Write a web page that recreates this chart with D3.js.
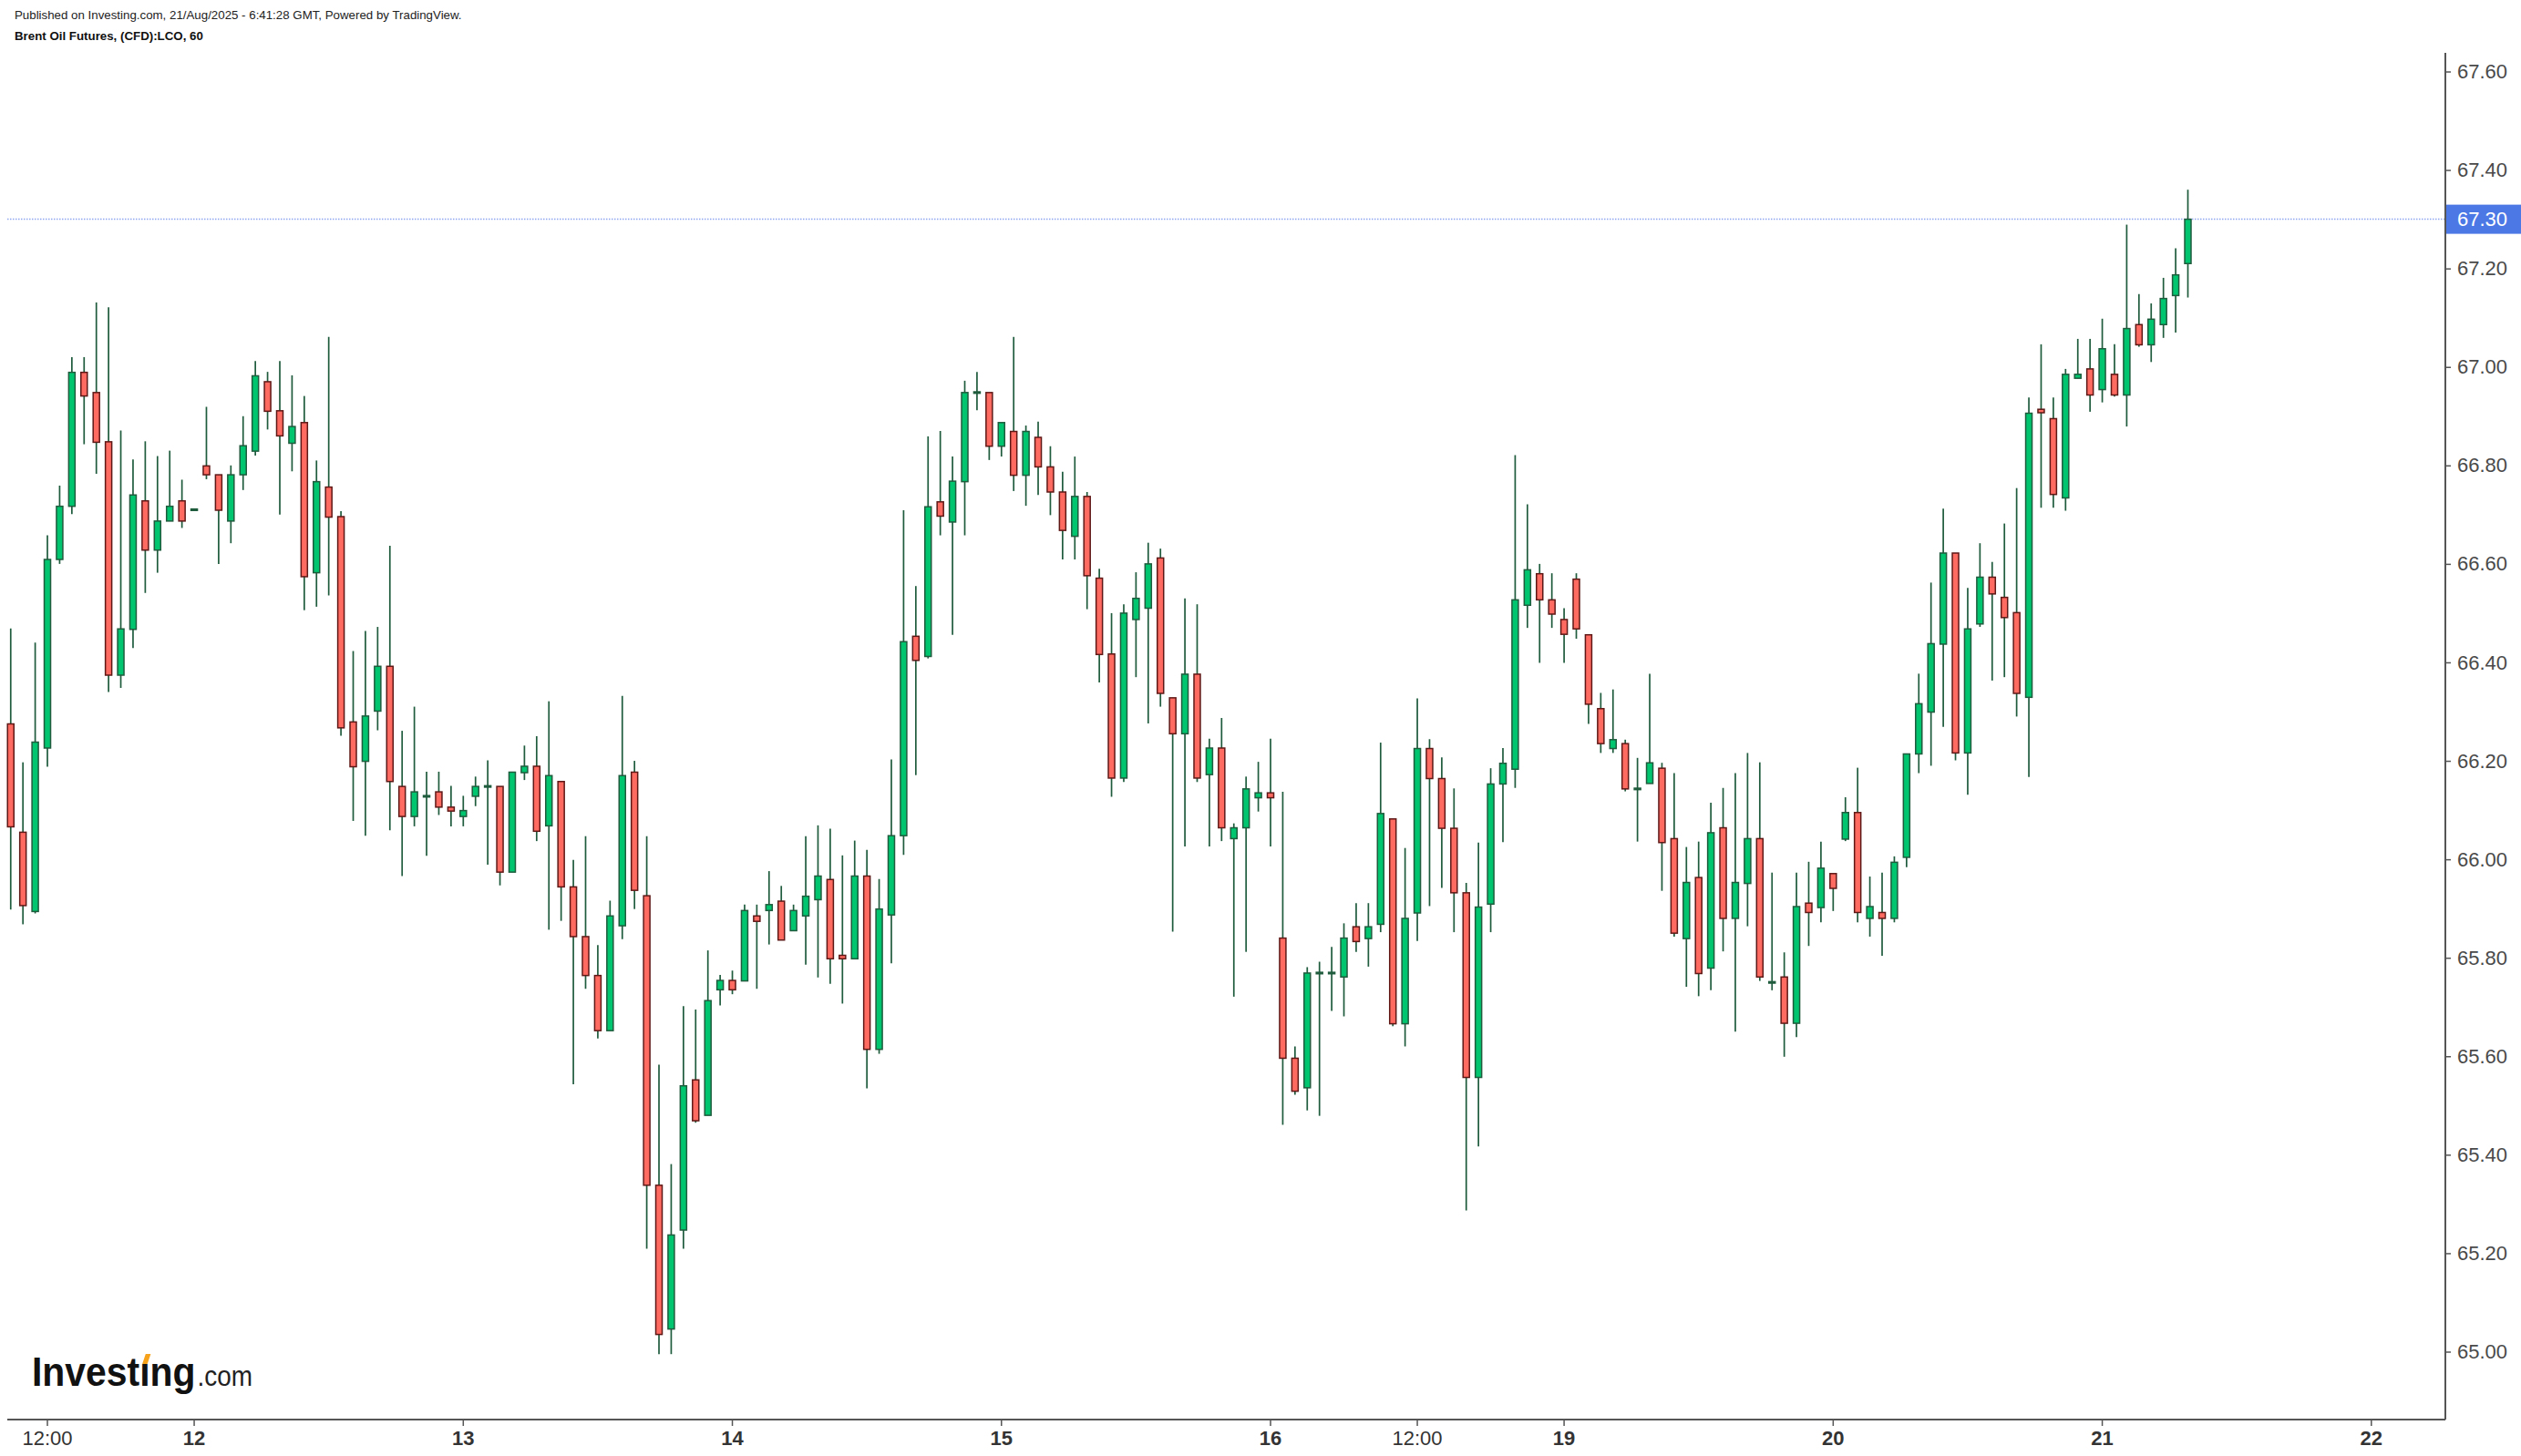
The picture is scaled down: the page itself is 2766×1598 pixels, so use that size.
<!DOCTYPE html>
<html>
<head>
<meta charset="utf-8">
<script src="https://cdn.jsdelivr.net/npm/d3@7"></script>
<style>
    html, body { margin: 0; padding: 0; background: #fff; }
    svg { display: block; font-family: "Liberation Sans", Arial, sans-serif; }
</style>
</head>
<body>
<div id="chart"></div>
<script>
// Brent Oil Futures hourly candles
var opens = [
    66.275, 66.055, 65.894, 66.226, 66.609, 66.717, 66.989, 66.948, 66.848, 66.374,
    66.467, 66.728, 66.628, 66.687, 66.728, 66.710, 66.799, 66.781, 66.687, 66.781,
    66.829, 66.970, 66.911, 66.845, 66.887, 66.582, 66.756, 66.696, 66.279, 66.199,
    66.301, 66.392, 66.148, 66.087, 66.128, 66.137, 66.106, 66.087, 66.128, 66.148,
    66.148, 65.974, 66.176, 66.189, 66.068, 66.158, 65.944, 65.843, 65.764, 65.652,
    65.865, 66.177, 65.926, 65.338, 65.046, 65.247, 65.552, 65.480, 65.735, 65.754,
    65.753, 65.885, 65.896, 65.915, 65.855, 65.885, 65.918, 65.959, 65.805, 65.798,
    65.966, 65.614, 65.887, 66.048, 66.453, 66.412, 66.726, 66.685, 66.767, 66.948,
    66.948, 66.839, 66.869, 66.780, 66.857, 66.797, 66.746, 66.656, 66.737, 66.571,
    66.417, 66.165, 66.487, 66.510, 66.612, 66.328, 66.255, 66.376, 66.172, 66.226,
    66.042, 66.064, 66.125, 66.135, 65.840, 65.596, 65.536, 65.769, 65.769, 65.761,
    65.863, 65.839, 65.868, 66.082, 65.666, 65.891, 66.225, 66.164, 66.063, 65.932,
    65.557, 65.909, 66.153, 66.183, 66.516, 66.580, 66.527, 66.487, 66.569, 66.456,
    66.306, 66.225, 66.235, 66.143, 66.154, 66.185, 66.042, 65.839, 65.963, 65.779,
    66.064, 65.880, 65.951, 66.042, 65.750, 65.761, 65.667, 65.911, 65.902, 65.971,
    66.041, 66.095, 65.880, 65.892, 65.880, 66.004, 66.214, 66.299, 66.437, 66.622,
    66.216, 66.478, 66.573, 66.532, 66.501, 66.329, 66.914, 66.895, 66.734, 66.977,
    66.996, 66.954, 66.985, 66.943, 67.086, 67.045, 67.086, 67.145, 67.210
];

var highs = [
    66.469, 66.197, 66.440, 66.658, 66.759, 67.020, 67.020, 67.131, 67.121, 66.871,
    66.812, 66.849, 66.819, 66.830, 66.771, 66.710, 66.919, 66.781, 66.800, 66.900,
    67.012, 66.990, 67.012, 66.983, 66.941, 66.810, 67.061, 66.707, 66.423, 66.464,
    66.472, 66.637, 66.261, 66.310, 66.178, 66.178, 66.149, 66.129, 66.168, 66.201,
    66.148, 66.177, 66.231, 66.250, 66.321, 66.158, 65.999, 66.047, 65.826, 65.916,
    66.332, 66.200, 66.047, 65.583, 65.381, 65.702, 65.695, 65.815, 65.765, 65.774,
    65.908, 65.908, 65.976, 65.946, 65.908, 66.047, 66.069, 66.062, 66.008, 66.038,
    66.019, 65.960, 66.203, 66.709, 66.555, 66.859, 66.870, 66.818, 66.972, 66.990,
    66.948, 66.887, 67.061, 66.881, 66.889, 66.839, 66.787, 66.818, 66.746, 66.590,
    66.500, 66.518, 66.583, 66.643, 66.631, 66.328, 66.530, 66.518, 66.245, 66.287,
    66.073, 66.168, 66.198, 66.245, 66.137, 65.620, 65.781, 65.792, 65.822, 65.870,
    65.911, 65.911, 66.237, 66.082, 66.023, 66.327, 66.244, 66.207, 66.144, 65.952,
    66.034, 66.185, 66.226, 66.821, 66.721, 66.600, 66.581, 66.510, 66.581, 66.456,
    66.338, 66.345, 66.243, 66.206, 66.377, 66.196, 66.175, 66.025, 66.036, 66.115,
    66.145, 66.175, 66.216, 66.197, 65.973, 65.811, 65.973, 65.995, 66.036, 65.971,
    66.126, 66.186, 65.965, 65.973, 66.006, 66.214, 66.377, 66.562, 66.712, 66.622,
    66.551, 66.642, 66.604, 66.682, 66.754, 66.938, 67.046, 66.938, 66.996, 67.057,
    67.057, 67.098, 67.046, 67.289, 67.148, 67.129, 67.181, 67.241, 67.360
];

var lows = [
    65.898, 65.868, 65.890, 66.188, 66.600, 66.701, 66.843, 66.783, 66.340, 66.348,
    66.429, 66.541, 66.582, 66.687, 66.673, 66.710, 66.772, 66.600, 66.642, 66.750,
    66.820, 66.873, 66.700, 66.788, 66.506, 66.513, 66.536, 66.251, 66.078, 66.048,
    66.262, 66.059, 65.966, 66.067, 66.007, 66.090, 66.067, 66.067, 66.108, 65.989,
    65.947, 65.974, 66.161, 66.037, 65.857, 65.875, 65.543, 65.737, 65.636, 65.652,
    65.838, 65.899, 65.209, 64.995, 64.995, 65.209, 65.465, 65.480, 65.703, 65.726,
    65.753, 65.737, 65.827, 65.836, 65.855, 65.786, 65.760, 65.747, 65.707, 65.798,
    65.535, 65.605, 65.789, 66.009, 66.171, 66.408, 66.658, 66.456, 66.658, 66.912,
    66.811, 66.818, 66.748, 66.718, 66.740, 66.699, 66.609, 66.609, 66.508, 66.359,
    66.127, 66.157, 66.370, 66.276, 66.310, 65.853, 66.026, 66.157, 66.026, 66.037,
    65.721, 65.812, 66.097, 66.026, 65.461, 65.522, 65.490, 65.479, 65.692, 65.681,
    65.812, 65.782, 65.852, 65.661, 65.620, 65.834, 65.905, 65.942, 65.852, 65.287,
    65.417, 65.852, 66.035, 66.145, 66.470, 66.399, 66.470, 66.399, 66.448, 66.275,
    66.216, 66.216, 66.138, 66.036, 66.154, 65.936, 65.843, 65.741, 65.722, 65.734,
    65.813, 65.650, 65.864, 65.753, 65.734, 65.599, 65.639, 65.824, 65.872, 65.895,
    66.037, 65.872, 65.843, 65.804, 65.872, 65.984, 66.175, 66.190, 66.269, 66.201,
    66.131, 66.472, 66.363, 66.370, 66.290, 66.167, 66.714, 66.714, 66.708, 66.977,
    66.909, 66.928, 66.940, 66.879, 67.041, 67.010, 67.059, 67.070, 67.141
];

var closes = [
    66.066, 65.906, 66.238, 66.609, 66.717, 66.989, 66.941, 66.847, 66.374, 66.468,
    66.740, 66.628, 66.687, 66.717, 66.687, 66.710, 66.781, 66.709, 66.781, 66.840,
    66.982, 66.910, 66.860, 66.879, 66.574, 66.767, 66.695, 66.267, 66.188, 66.291,
    66.392, 66.158, 66.087, 66.137, 66.128, 66.106, 66.098, 66.099, 66.148, 66.148,
    65.974, 66.177, 66.189, 66.057, 66.170, 65.944, 65.843, 65.764, 65.652, 65.885,
    66.170, 65.937, 65.338, 65.035, 65.237, 65.540, 65.469, 65.713, 65.754, 65.735,
    65.896, 65.874, 65.908, 65.836, 65.896, 65.925, 65.966, 65.798, 65.798, 65.966,
    65.614, 65.899, 66.048, 66.442, 66.404, 66.716, 66.697, 66.768, 66.948, 66.948,
    66.839, 66.887, 66.780, 66.869, 66.797, 66.746, 66.668, 66.737, 66.576, 66.416,
    66.165, 66.500, 66.530, 66.600, 66.337, 66.255, 66.376, 66.165, 66.226, 66.064,
    66.064, 66.143, 66.135, 66.125, 65.596, 65.529, 65.769, 65.769, 65.769, 65.840,
    65.833, 65.863, 66.093, 65.666, 65.880, 66.225, 66.164, 66.063, 65.932, 65.557,
    65.903, 66.153, 66.195, 66.527, 66.588, 66.527, 66.498, 66.457, 66.468, 66.315,
    66.235, 66.243, 66.143, 66.143, 66.196, 66.034, 65.850, 65.953, 65.768, 66.054,
    65.880, 65.953, 66.042, 65.761, 65.750, 65.667, 65.904, 65.892, 65.982, 65.941,
    66.095, 65.892, 65.904, 65.880, 65.994, 66.214, 66.316, 66.438, 66.622, 66.216,
    66.468, 66.573, 66.539, 66.491, 66.337, 66.906, 66.907, 66.741, 66.985, 66.985,
    66.943, 67.037, 66.943, 67.078, 67.045, 67.097, 67.139, 67.187, 67.300
];

// time axis labels, placed on the candle index where they sit
var xTickIndex = [3, 15, 37, 59, 81, 103, 115, 127, 149, 171, 193];
var xTickLabels = ["12:00", "12", "13", "14", "15", "16", "12:00", "19", "20", "21", "22"];

var yTickValues = [65.00, 65.20, 65.40, 65.60, 65.80, 66.00, 66.20, 66.40, 66.60, 66.80, 67.00, 67.20, 67.40, 67.60];
var lastPrice = 67.30;

var width = 2766, height = 1598;
var plot = {left: 8, right: 2683, top: 58, bottom: 1558};

var candles = opens.map(function (o, i) {
    return {i: i, o: o, h: highs[i], l: lows[i], c: closes[i]};
});

var svg = d3.select("#chart").append("svg")
    .attr("width", width)
    .attr("height", height);

var x = d3.scaleLinear()
    .domain([-0.28, 199.05])
    .range([plot.left, plot.right]);

var y = d3.scaleLinear()
    .domain([65.00, 67.60])
    .range([1483.5, 78.5]);

// header
svg.append("text")
    .attr("x", 16).attr("y", 20.5)
    .style("font-size", "13.3px")
    .style("fill", "#222")
    .text("Published on Investing.com, 21/Aug/2025 - 6:41:28 GMT, Powered by TradingView.");

svg.append("text")
    .attr("x", 16).attr("y", 44)
    .style("font-size", "13.3px")
    .style("font-weight", "bold")
    .style("fill", "#111")
    .text("Brent Oil Futures, (CFD):LCO, 60");

// last price line
svg.append("line")
    .attr("x1", plot.left).attr("x2", plot.right)
    .attr("y1", y(lastPrice)).attr("y2", y(lastPrice))
    .style("stroke", "#8ea6f0")
    .style("stroke-width", 1.5)
    .style("stroke-dasharray", "1.5,1.5");

// candles
var bodyW = 7;
var g = svg.append("g").attr("class", "candles");

var candle = g.selectAll(".candle")
    .data(candles)
    .enter().append("g")
    .attr("class", "candle");

candle.append("line")
    .attr("x1", function (d) { return x(d.i); })
    .attr("x2", function (d) { return x(d.i); })
    .attr("y1", function (d) { return y(d.h); })
    .attr("y2", function (d) { return y(d.l); })
    .style("stroke", "#1f5b3d")
    .style("stroke-width", 1.7);

candle.append("rect")
    .attr("x", function (d) { return x(d.i) - bodyW / 2; })
    .attr("width", bodyW)
    .attr("y", function (d) {
        if (d.o === d.c) return y(d.o) - 0.8;
        return y(Math.max(d.o, d.c));
    })
    .attr("height", function (d) {
        if (d.o === d.c) return 1.6;
        return Math.max(1, Math.abs(y(d.o) - y(d.c)));
    })
    .style("fill", function (d) {
        if (d.o === d.c) return "#1f5b3d";
        return d.c > d.o ? "#02c56f" : "#ff6a61";
    })
    .style("stroke", function (d) {
        if (d.o === d.c) return "#1f5b3d";
        return d.c > d.o ? "#1f5b3d" : "#5e1917";
    })
    .style("stroke-width", 1.5);

// price axis
var yAxis = svg.append("g")
    .attr("transform", "translate(" + plot.right + ",0)")
    .call(d3.axisRight(y).tickValues(yTickValues).tickFormat(d3.format(".2f")).tickSize(6).tickPadding(7));

yAxis.select(".domain").remove();
yAxis.selectAll(".tick line").style("stroke", "#555").style("stroke-width", 1.5);
yAxis.selectAll(".tick text")
    .style("font-size", "22px")
    .style("font-family", "'Liberation Sans', Arial, sans-serif")
    .style("fill", "#4a4a4a");

svg.append("line")
    .attr("x1", plot.right).attr("x2", plot.right)
    .attr("y1", plot.top).attr("y2", plot.bottom)
    .style("stroke", "#555")
    .style("stroke-width", 2);

// last price tag
svg.append("rect")
    .attr("x", plot.right + 1)
    .attr("y", y(lastPrice) - 16)
    .attr("width", width - plot.right - 1)
    .attr("height", 32)
    .style("fill", "#4c78e6");

svg.append("text")
    .attr("x", plot.right + 13)
    .attr("y", y(lastPrice))
    .attr("dy", "0.35em")
    .style("font-size", "22px")
    .style("fill", "#fff")
    .text(d3.format(".2f")(lastPrice));

// time axis
svg.append("line")
    .attr("x1", plot.left).attr("x2", plot.right)
    .attr("y1", plot.bottom).attr("y2", plot.bottom)
    .style("stroke", "#555")
    .style("stroke-width", 2);

var xt = svg.selectAll(".xtick")
    .data(xTickIndex)
    .enter().append("g")
    .attr("class", "xtick")
    .attr("transform", function (d) { return "translate(" + x(d) + "," + plot.bottom + ")"; });

xt.append("line")
    .attr("y1", 0).attr("y2", 7)
    .style("stroke", "#555")
    .style("stroke-width", 1.5);

xt.append("text")
    .attr("y", 28)
    .attr("text-anchor", "middle")
    .style("font-size", "22px")
    .style("font-weight", function (d, i) { return xTickLabels[i].indexOf(":") < 0 ? "bold" : "normal"; })
    .style("fill", "#333")
    .text(function (d, i) { return xTickLabels[i]; });

// Investing.com logo (condensed by scaling the group)
var logoScale = 0.93;
var logo = svg.append("g").attr("transform", "translate(35,1521)");
var wordG = logo.append("g").attr("transform", "scale(" + logoScale + ",1)");
var word = wordG.append("text")
    .attr("x", 0).attr("y", 0)
    .style("font-size", "44px")
    .style("font-weight", "bold")
    .style("fill", "#111")
    .text("Invest\u0131ng");

var iStart = word.node().getStartPositionOfChar(6).x;
var iEnd = word.node().getEndPositionOfChar(6).x;
var ic = (iStart + iEnd) / 2;
wordG.append("path")
    .attr("d", "M" + (ic - 3) + ",-24 L" + (ic + 3) + ",-24 L" + (ic + 7) + ",-35 L" + (ic + 1) + ",-35 Z")
    .style("fill", "#f7a21b");

var wordW = word.node().getComputedTextLength() * logoScale;
logo.append("g")
    .attr("transform", "translate(" + (wordW + 2) + ",0) scale(0.9,1)")
    .append("text")
    .attr("x", 0).attr("y", 0)
    .style("font-size", "31px")
    .style("fill", "#222")
    .text(".com");
</script>
</body>
</html>
